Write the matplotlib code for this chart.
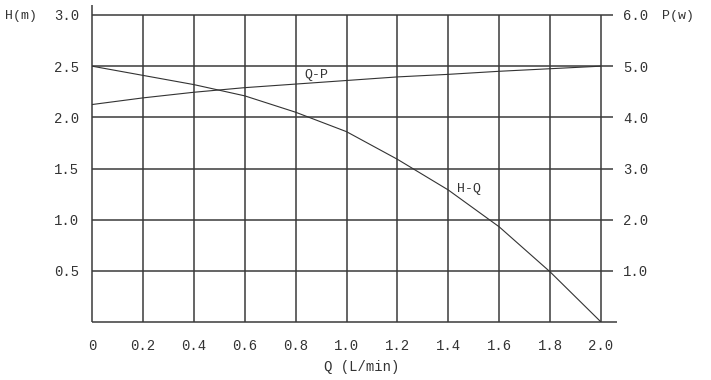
import numpy as np
import matplotlib.pyplot as plt

# data
q = [0.0, 0.2, 0.4, 0.6, 0.8, 1.0, 1.2, 1.4, 1.6, 1.8, 2.0]
head = [2.5, 2.41, 2.32, 2.21, 2.05, 1.86, 1.59, 1.29, 0.93, 0.49, 0.0]
power = [4.25, 4.38, 4.49, 4.58, 4.65, 4.72, 4.79, 4.84, 4.9, 4.95, 5.0]

x_ticks = [0, 0.2, 0.4, 0.6, 0.8, 1.0, 1.2, 1.4, 1.6, 1.8, 2.0]
x_labels = ["0", "0.2", "0.4", "0.6", "0.8", "1.0", "1.2", "1.4", "1.6", "1.8", "2.0"]
h_ticks = [0.5, 1.0, 1.5, 2.0, 2.5, 3.0]
p_ticks = [1.0, 2.0, 3.0, 4.0, 5.0, 6.0]

ink = "#333333"
plt.rcParams['font.family'] = ['Liberation Mono', 'DejaVu Sans Mono']

fig = plt.figure(figsize=(7.11, 3.80), dpi=100)
ax = fig.add_axes([92 / 711, 1 - 322 / 380, 509 / 711, 307 / 380])
ax.set_xlim(0, 2.0)
ax.set_ylim(0, 3.0)
for s in ax.spines.values():
    s.set_visible(False)

# grid
grid_kw = dict(color="#3a3a3a", lw=1.1, clip_on=False, solid_capstyle="butt")
for x in x_ticks[1:]:
    ax.plot([x, x], [0, 3.0], **grid_kw)
for y in h_ticks:
    ax.plot([0, 2.047], [y, y], **grid_kw)
ax.plot([0, 0], [0, 3.1], **grid_kw)
ax.plot([0, 2.063], [0, 0], **grid_kw)

# curves (power drawn on the head scale: P/2)
ax.plot(q, head, color=ink, lw=0.8)
ax.plot(q, np.array(power) / 2.0, color=ink, lw=0.8)
ax.text(0.88, 2.41, "Q-P", fontsize=9.5, color=ink, ha="center", va="center")
ax.text(1.48, 1.3, "H-Q", fontsize=9.5, color=ink, ha="center", va="center")

ax.set_xticks(x_ticks)
ax.set_xticklabels(x_labels)
ax.set_yticks(h_ticks)
ax.set_yticklabels(["%.1f" % v for v in h_ticks])
ax.tick_params(axis="x", length=0, pad=12, labelsize=10, colors=ink)
ax.tick_params(axis="y", length=0, pad=9, labelsize=10, colors=ink)

ax2 = ax.twinx()
ax2.set_ylim(0, 6.0)
for s in ax2.spines.values():
    s.set_visible(False)
ax2.set_yticks(p_ticks)
ax2.set_yticklabels(["%.1f" % v for v in p_ticks])
ax2.tick_params(axis="y", length=0, pad=16, labelsize=10, colors=ink)

fig.text(5 / 711, 1 - 16 / 380, "H(m)", fontsize=9.5, color=ink, ha="left", va="center")
fig.text(662 / 711, 1 - 16 / 380, "P(w)", fontsize=9.5, color=ink, ha="left", va="center")
fig.text(362 / 711, 1 - 367 / 380, "Q (L/min)", fontsize=10, color=ink, ha="center", va="center")

fig.savefig("out.png", dpi=100, facecolor="white")
